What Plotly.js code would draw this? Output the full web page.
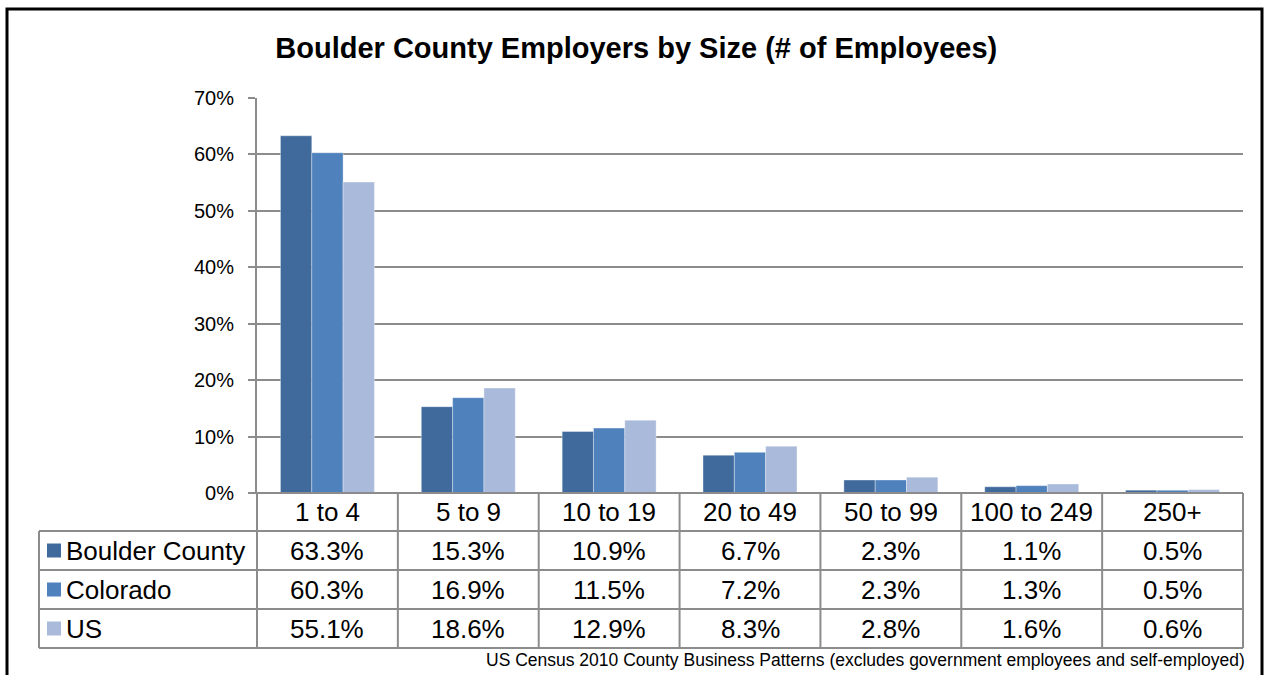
<!DOCTYPE html>
<html>
<head>
<meta charset="utf-8">
<script src="https://cdn.plot.ly/plotly-3.0.1.min.js"></script>
<style>
html,body{margin:0;padding:0;background:#fff;}
#chart{width:1265px;height:675px;}
</style>
</head>
<body>
<div id="chart"></div>
<script>
// ---- data ----
const categories = ["1 to 4", "5 to 9", "10 to 19", "20 to 49", "50 to 99", "100 to 249", "250+"];
const seriesNames = ["Boulder County", "Colorado", "US"];
const boulder = [63.3, 15.3, 10.9, 6.7, 2.3, 1.1, 0.5];
const colorado = [60.3, 16.9, 11.5, 7.2, 2.3, 1.3, 0.5];
const us = [55.1, 18.6, 12.9, 8.3, 2.8, 1.6, 0.6];
const yTickVals = [0, 10, 20, 30, 40, 50, 60, 70];
const yTickText = ["0%", "10%", "20%", "30%", "40%", "50%", "60%", "70%"];
const titleText = "Boulder County Employers by Size (# of Employees)";
const sourceText = "US Census 2010 County Business Patterns (excludes government employees and self-employed)";

// ---- style ----
const colors = ["#416A9C", "#4F81BD", "#AABADA"];
const FONT = "Liberation Sans, Arial, sans-serif";
const W = 1265, H = 675;
const L = 257, R = 1243, T = 98, B = 493;
const PW = R - L, PH = B - T;
const px = v => (v - L) / PW;
const py = v => (B - v) / PH;
const lineCol = "#8C8C8C";

const allSeries = [boulder, colorado, us];
const traces = allSeries.map((vals, i) => ({
  type: "bar",
  x: categories,
  y: vals,
  name: seriesNames[i],
  marker: {color: colors[i], line: {color: "rgba(255,255,255,0.35)", width: 1}},
  hoverinfo: "x+y+name"
}));

const shapes = [];
const annotations = [];

// outer frame
shapes.push({type: "rect", xref: "paper", yref: "paper",
  x0: px(7), x1: px(1262), y0: py(690), y1: py(9),
  line: {color: "#000", width: 3}, fillcolor: "rgba(0,0,0,0)", layer: "above"});

// table rows (pixel positions)
const rowY = [493, 531, 570, 609, 648];
shapes.push({type: "line", xref: "paper", yref: "paper", x0: px(250), x1: px(R), y0: py(493), y1: py(493), line: {color: lineCol, width: 2}});
for (let k = 1; k < rowY.length; k++) {
  shapes.push({type: "line", xref: "paper", yref: "paper", x0: px(39), x1: px(R), y0: py(rowY[k]), y1: py(rowY[k]), line: {color: lineCol, width: 2}});
}
shapes.push({type: "line", xref: "paper", yref: "paper", x0: px(39), x1: px(39), y0: py(531), y1: py(648), line: {color: lineCol, width: 2}});
shapes.push({type: "line", xref: "paper", yref: "paper", x0: px(L), x1: px(L), y0: py(493), y1: py(648), line: {color: lineCol, width: 2}});
shapes.push({type: "line", xref: "paper", yref: "paper", x0: px(R), x1: px(R), y0: py(493), y1: py(648), line: {color: lineCol, width: 2}});
for (let i = 0; i < categories.length - 1; i++) {
  shapes.push({type: "line", xref: "x", yref: "paper", x0: i + 0.5, x1: i + 0.5, y0: py(493), y1: py(648), line: {color: lineCol, width: 2}});
}

const cellFont = {family: FONT, size: 26, color: "#000"};
categories.forEach((c, i) => {
  annotations.push({xref: "x", yref: "paper", x: i, y: py((rowY[0] + rowY[1]) / 2), text: c,
    showarrow: false, xanchor: "center", yanchor: "middle", font: cellFont});
});
allSeries.forEach((vals, s) => {
  const yc = py((rowY[s + 1] + rowY[s + 2]) / 2);
  vals.forEach((v, i) => {
    annotations.push({xref: "x", yref: "paper", x: i, y: yc, text: v.toFixed(1) + "%",
      showarrow: false, xanchor: "center", yanchor: "middle", font: cellFont});
  });
  const yPix = (rowY[s + 1] + rowY[s + 2]) / 2;
  shapes.push({type: "rect", xref: "paper", yref: "paper", x0: px(47), x1: px(61), y0: py(yPix + 7), y1: py(yPix - 7),
    fillcolor: colors[s], line: {width: 0}});
  annotations.push({xref: "paper", yref: "paper", x: px(64), y: yc, text: seriesNames[s],
    showarrow: false, xanchor: "left", yanchor: "middle", font: cellFont});
});

annotations.push({xref: "paper", yref: "paper", x: px(1247), y: py(660), text: sourceText,
  showarrow: false, xanchor: "right", yanchor: "middle",
  font: {family: FONT, size: 17.5, color: "#000"}});

const layout = {
  width: W, height: H,
  margin: {l: L, r: W - R, t: T, b: H - B, pad: 0},
  paper_bgcolor: "#fff", plot_bgcolor: "#fff",
  showlegend: false,
  barmode: "group", bargap: 0.333, bargroupgap: 0,
  title: {text: "<b>" + titleText + "</b>", x: 0.503, xref: "container", y: 1 - 48 / H, yref: "container",
    xanchor: "center", yanchor: "middle", font: {family: FONT, size: 29, color: "#000"}},
  xaxis: {type: "category", categoryarray: categories, showticklabels: false, showgrid: false,
    zeroline: false, showline: false, ticks: "", range: [-0.5, categories.length - 0.5], fixedrange: true},
  yaxis: {range: [0, 70], tickvals: yTickVals, ticktext: yTickText, showgrid: true, gridcolor: lineCol, gridwidth: 2,
    zeroline: false, showline: true, linecolor: lineCol, linewidth: 2, ticks: "outside", ticklen: 7, tickcolor: lineCol, tickwidth: 2,
    tickfont: {family: FONT, size: 20, color: "#000"}, ticklabelstandoff: 10, fixedrange: true},
  shapes: shapes,
  annotations: annotations,
  font: {family: FONT}
};

Plotly.newPlot("chart", traces, layout, {displayModeBar: false, staticPlot: true});
</script>
</body>
</html>
